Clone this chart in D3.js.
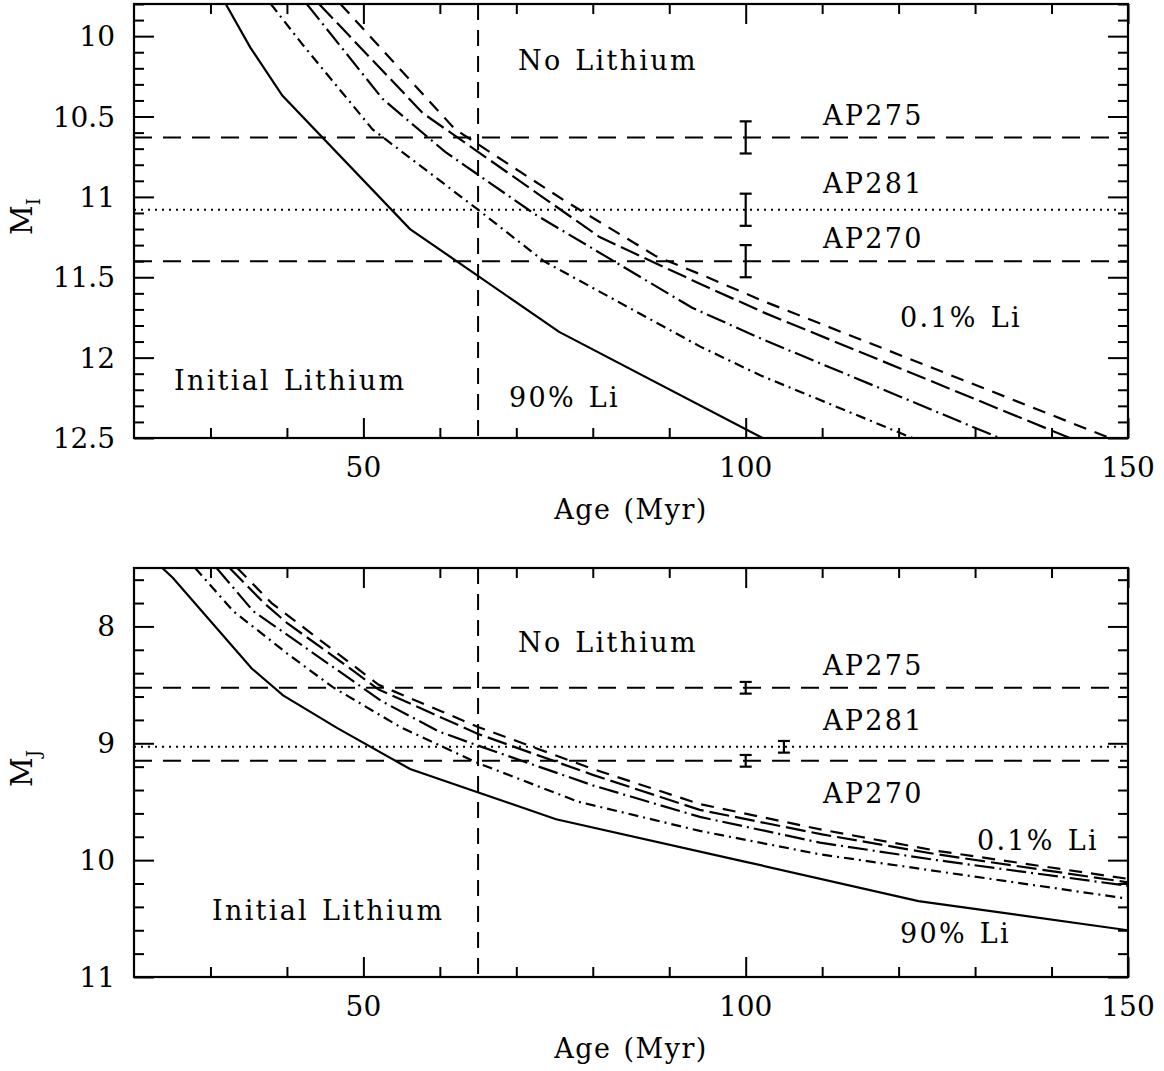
<!DOCTYPE html>
<html>
<head>
<meta charset="utf-8">
<script src="https://cdn.jsdelivr.net/npm/d3@7"></script>
<style>
  html, body { margin: 0; padding: 0; background: #fff; }
  svg { display: block; }
  text { font-family: "DejaVu Serif", serif; fill: #000; }
</style>
</head>
<body>
<script>
// ---------------- DATA ----------------
const xDomain = [20, 150];
const xMajorTicks = [50, 100, 150];
const xMinorTicks = [30, 40, 60, 70, 80, 90, 110, 120, 130, 140];

// Top panel (M_I)
const topYDomain = [9.8, 12.5];
const topYMajorTicks = [10, 10.5, 11, 11.5, 12, 12.5];
const topYTickLabels = ["10", "10.5", "11", "11.5", "12", "12.5"];
const topCurve90 = [[32.0, 9.8], [35.2, 10.07], [39.4, 10.37], [56.1, 11.20], [75.6, 11.84], [102.2, 12.5]];
const topCurveDD = [[37.9, 9.8], [42.0, 10.05], [51.2, 10.58], [65, 11.08], [73.6, 11.40], [94, 11.93], [101.9, 12.11], [121.8, 12.5]];
const topCurveLDD = [[42.6, 9.8], [52.5, 10.39], [60.7, 10.72], [72.5, 11.11], [93, 11.69], [102.4, 11.89], [133.2, 12.5]];
const topCurveLD = [[44.2, 9.8], [57.8, 10.48], [72.5, 10.97], [80.9, 11.25], [94, 11.54], [102.4, 11.72], [142.4, 12.5]];
const topCurve01 = [[47.0, 9.8], [62, 10.58], [76.2, 11.02], [88.3, 11.37], [94, 11.48], [102.4, 11.65], [147.6, 12.5]];
const topStars = ["AP275", "AP281", "AP270"];
const topStarMag = [10.63, 11.08, 11.40];
const topStarAge = [100, 100, 100];
const topStarErr = [0.1, 0.1, 0.1];

// Bottom panel (M_J)
const botYDomain = [7.5, 11];
const botYMajorTicks = [8, 9, 10, 11];
const botYTickLabels = ["8", "9", "10", "11"];
const botCurve90 = [[23.7, 7.5], [25.1, 7.585], [35.4, 8.36], [39.5, 8.59], [46.6, 8.87], [56.1, 9.22], [75.2, 9.65], [99.7, 10.01], [122.6, 10.35], [150, 10.60]];
const botCurveDD = [[28.0, 7.5], [33.0, 7.87], [40, 8.23], [46.0, 8.52], [54.8, 8.86], [65, 9.17], [78.1, 9.5], [94, 9.75], [109.7, 9.95], [150, 10.33]];
const botCurveLDD = [[30.8, 7.5], [35.6, 7.87], [40, 8.07], [52.4, 8.64], [59.9, 8.9], [65, 9.02], [80, 9.36], [94, 9.63], [109.7, 9.85], [125, 10.0], [150, 10.22]];
const botCurveLD = [[32.5, 7.5], [37, 7.8], [40, 7.97], [47, 8.3], [52, 8.54], [65, 8.92], [80, 9.27], [94, 9.57], [110, 9.78], [125, 9.95], [150, 10.19]];
const botCurve01 = [[33.5, 7.5], [38, 7.8], [41, 7.95], [48, 8.3], [52, 8.5], [65, 8.86], [80, 9.22], [94, 9.52], [110, 9.74], [125, 9.92], [150, 10.16]];
const botStars = ["AP275", "AP281", "AP270"];
const botStarMag = [8.525, 9.03, 9.15];
const botStarAge = [100, 105, 100];
const botStarErr = [0.05, 0.05, 0.05];

const ageCut = 65;

// ---------------- DRAW ----------------
const W = 1164, H = 1071;
const svg = d3.select("body").append("svg").attr("width", W).attr("height", H);
const x = d3.scaleLinear().domain(xDomain).range([134, 1128]);

const curveStyles = [
  { key: "c90", dash: null },
  { key: "cDD", dash: "10,5,2,5" },
  { key: "cLDD", dash: "20,5,2,5" },
  { key: "cLD", dash: "20,6" },
  { key: "c01", dash: "13,9" }
];

function drawPanel(cfg, idx) {
  const y = d3.scaleLinear().domain(cfg.yDomain).range([cfg.top, cfg.bottom]);
  const g = svg.append("g");
  const clipId = "clip" + idx;
  svg.append("clipPath").attr("id", clipId).append("rect")
    .attr("x", x.range()[0]).attr("y", cfg.top)
    .attr("width", x.range()[1] - x.range()[0]).attr("height", cfg.bottom - cfg.top);
  const inner = g.append("g").attr("clip-path", `url(#${clipId})`);

  // horizontal star lines
  cfg.starMag.forEach((m, i) => {
    inner.append("line")
      .attr("x1", x.range()[0]).attr("x2", x.range()[1])
      .attr("y1", y(m)).attr("y2", y(m))
      .attr("stroke", "#000").attr("stroke-width", 2)
      .attr("stroke-dasharray", i === 1 ? "2,5" : "18,11");
  });
  // vertical age line
  inner.append("line")
    .attr("x1", x(ageCut)).attr("x2", x(ageCut))
    .attr("y1", cfg.top).attr("y2", cfg.bottom)
    .attr("stroke", "#000").attr("stroke-width", 2)
    .attr("stroke-dasharray", "16,10");

  // curves
  const line = d3.line().x(d => x(d[0])).y(d => y(d[1]));
  cfg.curves.forEach((c, i) => {
    inner.append("path").datum(c)
      .attr("d", line)
      .attr("fill", "none").attr("stroke", "#000").attr("stroke-width", 2.2)
      .attr("stroke-dasharray", curveStyles[i].dash);
  });

  // error bars
  cfg.starMag.forEach((m, i) => {
    const cx = x(cfg.starAge[i]);
    const e = cfg.starErr[i];
    const gg = g.append("g").attr("stroke", "#000").attr("stroke-width", 2.2);
    gg.append("line").attr("x1", cx).attr("x2", cx).attr("y1", y(m - e)).attr("y2", y(m + e));
    gg.append("line").attr("x1", cx - 6).attr("x2", cx + 6).attr("y1", y(m - e)).attr("y2", y(m - e));
    gg.append("line").attr("x1", cx - 6).attr("x2", cx + 6).attr("y1", y(m + e)).attr("y2", y(m + e));
  });

  // axes: ticks drawn via d3 axes (inward)
  const xMajor = d3.axisBottom(x).tickValues(xMajorTicks).tickSize(-20).tickFormat("");
  const xMinor = d3.axisBottom(x).tickValues(xMinorTicks).tickSize(-10).tickFormat("");
  const xMajorT = d3.axisTop(x).tickValues(xMajorTicks).tickSize(-20).tickFormat("");
  const xMinorT = d3.axisTop(x).tickValues(xMinorTicks).tickSize(-10).tickFormat("");
  const yMinorVals = d3.range(Math.round(cfg.yDomain[0] / cfg.minorStep), Math.round(cfg.yDomain[1] / cfg.minorStep) + 1)
    .map(k => +(k * cfg.minorStep).toFixed(3))
    .filter(v => !cfg.yMajor.some(M => Math.abs(M - v) < 1e-6));
  const yMajorL = d3.axisLeft(y).tickValues(cfg.yMajor).tickSize(-20).tickFormat("");
  const yMinorL = d3.axisLeft(y).tickValues(yMinorVals).tickSize(-10).tickFormat("");
  const yMajorR = d3.axisRight(y).tickValues(cfg.yMajor).tickSize(-20).tickFormat("");
  const yMinorR = d3.axisRight(y).tickValues(yMinorVals).tickSize(-10).tickFormat("");

  const axes = [
    [xMajor, `translate(0,${cfg.bottom})`], [xMinor, `translate(0,${cfg.bottom})`],
    [xMajorT, `translate(0,${cfg.top})`], [xMinorT, `translate(0,${cfg.top})`],
    [yMajorL, `translate(${x.range()[0]},0)`], [yMinorL, `translate(${x.range()[0]},0)`],
    [yMajorR, `translate(${x.range()[1]},0)`], [yMinorR, `translate(${x.range()[1]},0)`]
  ];
  axes.forEach(([ax, tr]) => {
    const a = g.append("g").attr("transform", tr).call(ax);
    a.select(".domain").remove();
    a.selectAll("line").attr("stroke", "#000").attr("stroke-width", 2);
  });

  // frame
  g.append("rect")
    .attr("x", x.range()[0]).attr("y", cfg.top)
    .attr("width", x.range()[1] - x.range()[0]).attr("height", cfg.bottom - cfg.top)
    .attr("fill", "none").attr("stroke", "#000").attr("stroke-width", 2.2);

  // tick labels
  g.selectAll(".xl").data(xMajorTicks).enter().append("text")
    .attr("x", d => x(d)).attr("y", cfg.bottom + 39)
    .attr("text-anchor", "middle").attr("font-size", 28).text(d => d);
  g.selectAll(".yl").data(cfg.yMajor).enter().append("text")
    .attr("x", 115).attr("y", d => y(d) + 10)
    .attr("text-anchor", "end").attr("font-size", 28).text((d, i) => cfg.yLabels[i]);

  // axis titles
  g.append("text").attr("x", 631).attr("y", cfg.bottom + 81)
    .attr("text-anchor", "middle").attr("font-size", 27)
    .attr("letter-spacing", 1.5).attr("word-spacing", 2).text("Age (Myr)");
  const yt = g.append("text").attr("font-size", 29)
    .attr("transform", `translate(32,${cfg.yTitleY}) rotate(-90)`);
  yt.append("tspan").text("M");
  yt.append("tspan").attr("font-size", 18).attr("dy", 8).text(cfg.sub);

  // annotations
  const ann = (t, xx, yy) => g.append("text").attr("x", xx).attr("y", yy)
    .attr("font-size", 27).attr("letter-spacing", 2.3).attr("word-spacing", 2).text(t);
  cfg.ann.forEach(a => ann(a[0], a[1], a[2]));
}

drawPanel({
  top: 4, bottom: 438, yDomain: topYDomain, yMajor: topYMajorTicks, yLabels: topYTickLabels, minorStep: 0.1,
  curves: [topCurve90, topCurveDD, topCurveLDD, topCurveLD, topCurve01],
  starMag: topStarMag, starAge: topStarAge, starErr: topStarErr,
  yTitleY: 235, sub: "I",
  ann: [["No Lithium", 518, 70], [topStars[0], 823, 125], [topStars[1], 823, 193], [topStars[2], 823, 248],
        ["0.1% Li", 900, 327], ["90% Li", 509, 407], ["Initial Lithium", 174, 390]]
}, 0);

drawPanel({
  top: 568, bottom: 977, yDomain: botYDomain, yMajor: botYMajorTicks, yLabels: botYTickLabels, minorStep: 0.2,
  curves: [botCurve90, botCurveDD, botCurveLDD, botCurveLD, botCurve01],
  starMag: botStarMag, starAge: botStarAge, starErr: botStarErr,
  yTitleY: 787, sub: "J",
  ann: [["No Lithium", 518, 652], [botStars[0], 823, 675], [botStars[1], 823, 730], [botStars[2], 823, 803],
        ["0.1% Li", 977, 850], ["90% Li", 900, 943], ["Initial Lithium", 212, 920]]
}, 1);
</script>
</body>
</html>
